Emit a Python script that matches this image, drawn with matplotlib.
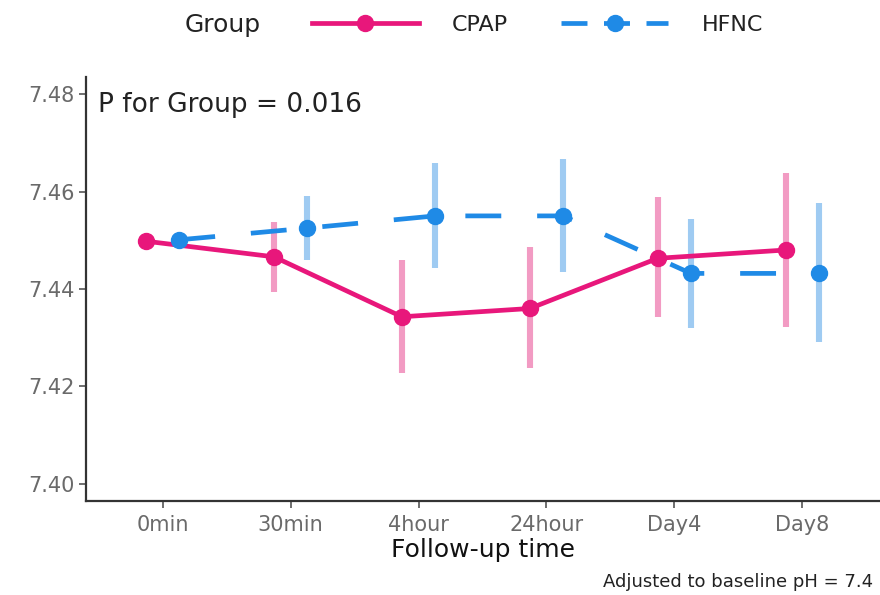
import matplotlib
matplotlib.use("Agg")
import matplotlib.pyplot as plt
from matplotlib.lines import Line2D
import numpy as np

# Follow-up time points
times = ["0min", "30min", "4hour", "24hour", "Day4", "Day8"]

# Adjusted mean pH and 95% CI per group
cpap_mean = [7.4498, 7.4466, 7.4343, 7.4360, 7.4463, 7.4480]
cpap_low = [7.4498, 7.4394, 7.4228, 7.4237, 7.4343, 7.4323]
cpap_high = [7.4498, 7.4538, 7.4459, 7.4487, 7.4588, 7.4637]

hfnc_mean = [7.4501, 7.4525, 7.4550, 7.4550, 7.4432, 7.4432]
hfnc_low = [7.4501, 7.4459, 7.4443, 7.4435, 7.4319, 7.4292]
hfnc_high = [7.4501, 7.4591, 7.4658, 7.4666, 7.4544, 7.4576]

yticks = [7.40, 7.42, 7.44, 7.46, 7.48]

CPAP_COL = "#E8177B"
HFNC_COL = "#1F8AE6"
CPAP_BAR = "#F29BC3"
HFNC_BAR = "#9FCBF2"
DODGE = 0.13

plt.rcParams["font.family"] = ["DejaVu Sans"]

fig = plt.figure(figsize=(8.8, 5.95), dpi=100)
ax = fig.add_axes([86 / 880, 1 - 501 / 595, 793 / 880, 424 / 595])

x = np.arange(len(times))
xc = x - DODGE
xh = x + DODGE

# confidence intervals
ax.vlines(xc, cpap_low, cpap_high, color=CPAP_BAR, lw=4.4, zorder=1)
ax.vlines(xh, hfnc_low, hfnc_high, color=HFNC_BAR, lw=4.4, zorder=1)

# mean trajectories
ax.plot(xc, cpap_mean, color=CPAP_COL, lw=3.4, solid_capstyle="butt",
        marker="o", ms=11.5, zorder=3)
ax.plot(xh, hfnc_mean, color=HFNC_COL, lw=3.4, linestyle=(0, (7.6, 7.6)),
        dash_capstyle="butt", marker="o", ms=11.5, zorder=4)

ax.set_xlim(-0.6, len(times) - 0.4)
ax.set_ylim(7.3965, 7.4835)
ax.set_xticks(x)
ax.set_xticklabels(times)
ax.set_yticks(yticks)
ax.set_yticklabels([f"{v:.2f}" for v in yticks])

for side in ("top", "right"):
    ax.spines[side].set_visible(False)
for side in ("left", "bottom"):
    ax.spines[side].set_color("#333333")
    ax.spines[side].set_linewidth(1.6)

ax.tick_params(axis="both", length=5, width=1.2, color="#555555",
               labelcolor="#6a6a6a", labelsize=15)
ax.tick_params(axis="x", pad=5)
ax.tick_params(axis="y", pad=3)

ax.set_xlabel("Follow-up time", fontsize=18, color="#111111", labelpad=2)

ax.text(0.015, 0.934, "P for Group = 0.016", transform=ax.transAxes,
        fontsize=19, color="#222222", va="center", ha="left")

fig.text(873 / 880, 1 - 582 / 595, "Adjusted to baseline pH = 7.4",
         fontsize=13, color="#222222", ha="right", va="center")

# legend across the top
fig.text(185 / 880, 1 - 25 / 595, "Group", fontsize=18, color="#222222",
         ha="left", va="center")
handles = [
    Line2D([], [], color=CPAP_COL, lw=3.4, marker="o", ms=11.5),
    Line2D([], [], color=HFNC_COL, lw=3.4, linestyle=(0, (5.5, 3.5)),
           marker="o", ms=11.5),
]
fig.legend(handles, ["CPAP", "HFNC"], loc="center left",
           bbox_to_anchor=(312 / 880, 1 - 25 / 595), ncol=2, frameon=False,
           fontsize=16, handlelength=4.8, handletextpad=1.5,
           columnspacing=2.4, borderpad=0, borderaxespad=0,
           labelcolor="#222222")

fig.savefig("out.png", dpi=100)
